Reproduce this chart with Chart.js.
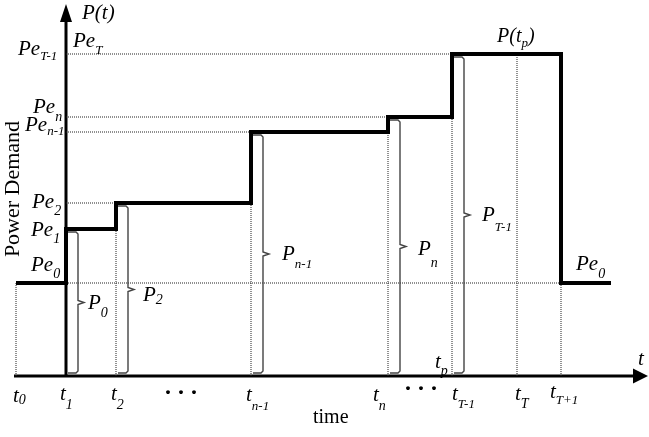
<!DOCTYPE html>
<html>
<head>
<meta charset="utf-8">
<script src="https://cdn.jsdelivr.net/npm/chart.js@4"></script>
<style>
  html, body { margin: 0; padding: 0; background: #fff; }
  #wrap { width: 649px; height: 437px; position: relative; }
</style>
</head>
<body>
<div id="wrap"><canvas id="demandChart"></canvas></div>
<script>
// Time instants on the horizontal axis (t1 sits on the vertical axis)
const timeNames = ['0', '1', '2', 'n-1', 'n', 'T-1', 'T', 'T+1'];
const timePoints = [-50, 0, 50, 185, 322, 386, 451, 495];

// Power demand levels Pe_k
const levelNames = ['0', '1', '2', 'n-1', 'n', 'T-1'];
const demandLevels = [93, 147, 173, 244, 259, 322];

// Demand profile P(t): steps up at each instant, falls back to Pe0 at t_T+1
const stepTimes = [-50, 0, 50, 185, 322, 386, 495, 545];
const stepDemand = [93, 147, 173, 244, 259, 322, 93, 93];

// Dotted guides: level -> index of time it runs to, time -> index of level it rises to
const levelGuideEnd = [7, null, 2, 3, 4, 5];
const timeGuideEnd = [0, null, 1, 2, 3, 4, 5, 0];

// Braces P_k, each standing at a step instant
const braceNames = ['0', '2', 'n-1', 'n', 'T-1'];
const braceAt = [1, 2, 3, 4, 5];

const serif = "'Liberation Serif', 'Times New Roman', serif";

// text placement (pixels): [x, baseline, subscript baseline]
const levelLabelPos = [[31, 271, 278], [31, 236, 243], [32, 208, 215], [25, 131, 135], [33, 113, 121], [18, 55, 60]];
const timeLabelPos = [[13, 402, 404], [60, 400, 409], [111, 400, 409], [246, 401, 410], [373, 401, 410], [452, 400, 408], [515, 400, 408], [550, 398, 404]];
const braceLabelPos = [[88, 309, 317], [143, 301, 304], [282, 260, 268], [418, 255, 267], [482, 221, 231]];

const toPts = arr => arr.map(([x, y]) => ({ x, y }));

const datasets = [];

// thick demand profile (drawn on top, so first)
datasets.push({
    data: stepTimes.map((x, i) => ({ x, y: stepDemand[i] })),
    borderColor: '#000',
    borderWidth: 4,
    stepped: 'before',
    borderJoinStyle: 'miter',
    borderCapStyle: 'butt'
});

// braces
braceAt.forEach(i => {
    const t = timePoints[i];
    const top = demandLevels[i];
    const mid = top / 2;
    const bx = t + 12;
    datasets.push({
        data: toPts([[t + 2, top - 3], [bx - 2, top - 3], [bx, top - 5], [bx, mid + 2], [bx + 6, mid],
                     [bx, mid - 2], [bx, 5], [bx - 2, 3], [t + 2, 3]]),
        borderColor: '#444',
        borderWidth: 1.4
    });
});

// dotted guides
const guideStyle = { borderColor: '#222', borderWidth: 1, borderDash: [1, 1] };
levelGuideEnd.forEach((ti, li) => {
    if (ti === null) return;
    datasets.push({ ...guideStyle, data: toPts([[0, demandLevels[li]], [timePoints[ti], demandLevels[li]]]) });
});
timeGuideEnd.forEach((li, ti) => {
    if (li === null) return;
    datasets.push({ ...guideStyle, data: toPts([[timePoints[ti], 0], [timePoints[ti], demandLevels[li]]]) });
});

function subText(ctx, main, sub, x, y, subY, size, subSize, upright) {
    ctx.font = `${upright ? '' : 'italic '}${size}px ${serif}`;
    ctx.fillText(main, x, y);
    const w = ctx.measureText(main).width;
    ctx.font = `italic ${subSize}px ${serif}`;
    ctx.fillText(sub, x + w, subY);
    return x + w + ctx.measureText(sub).width;
}

const schemePlugin = {
    id: 'scheme',
    beforeDatasetsDraw(chart) {
        const { ctx, scales: { x, y } } = chart;
        const ox = x.getPixelForValue(0);
        const oy = y.getPixelForValue(0);
        ctx.save();
        ctx.strokeStyle = '#000';
        ctx.fillStyle = '#000';
        ctx.lineWidth = 3;
        ctx.beginPath();
        ctx.moveTo(14, oy);
        ctx.lineTo(634, oy);
        ctx.moveTo(ox, oy + 1.5);
        ctx.lineTo(ox, 21);
        ctx.stroke();
        // arrowheads
        ctx.beginPath();
        ctx.moveTo(633, oy - 7.5);
        ctx.lineTo(648, oy);
        ctx.lineTo(633, oy + 7.5);
        ctx.closePath();
        ctx.fill();
        ctx.beginPath();
        ctx.moveTo(ox - 6, 22);
        ctx.lineTo(ox, 4);
        ctx.lineTo(ox + 6, 22);
        ctx.closePath();
        ctx.fill();
        ctx.restore();
    },
    afterDatasetsDraw(chart) {
        const { ctx } = chart;
        ctx.save();
        ctx.fillStyle = '#000';
        ctx.textBaseline = 'alphabetic';
        ctx.textAlign = 'left';

        levelNames.forEach((n, i) => {
            const [lx, ly, sy] = levelLabelPos[i];
            subText(ctx, 'Pe', n, lx, ly, sy, 21, n.length > 1 ? 13 : 14);
        });
        subText(ctx, 'Pe', 'T', 73, 47, 54, 21, 13);
        subText(ctx, 'Pe', '0', 576, 270, 278, 21, 14);

        timeNames.forEach((n, i) => {
            const [lx, ly, sy] = timeLabelPos[i];
            subText(ctx, 't', n, lx, ly, sy, 21, n.length > 1 ? 13 : 14);
        });

        braceNames.forEach((n, i) => {
            const [lx, ly, sy] = braceLabelPos[i];
            subText(ctx, 'P', n, lx, ly, sy, 21, n.length > 1 ? 13 : 14);
        });

        ctx.font = `italic 21px ${serif}`;
        ctx.fillText('P(t)', 82, 19);
        ctx.fillText('t', 638, 365);
        const end = subText(ctx, 'P(t', 'p', 497, 42, 47, 20, 13);
        ctx.font = `italic 20px ${serif}`;
        ctx.fillText(')', end, 42);
        subText(ctx, 't', 'p', 435, 368, 375, 21, 14);

        // ellipses between instants
        ctx.font = `bold 24px ${serif}`;
        [[167, 400], [407, 396]].forEach(([dx, dy]) => {
            for (let k = 0; k < 3; k++) ctx.fillText('·', dx - 3 + k * 13, dy);
        });

        ctx.font = `20px ${serif}`;
        ctx.fillText('time', 313, 423);

        ctx.translate(19, 189);
        ctx.rotate(-Math.PI / 2);
        ctx.textAlign = 'center';
        ctx.font = `22px ${serif}`;
        ctx.fillText('Power Demand', 0, 0);
        ctx.restore();
    }
};

const ctxDemand = document.getElementById('demandChart').getContext('2d');
new Chart(ctxDemand, {
    type: 'scatter',
    data: { datasets },
    options: {
        responsive: true,
        maintainAspectRatio: false,
        animation: false,
        layout: { padding: 0 },
        showLine: true,
        datasets: {
            scatter: { showLine: true, pointRadius: 0, fill: false }
        },
        elements: {
            point: { radius: 0, hoverRadius: 0 },
            line: { tension: 0 }
        },
        scales: {
            x: { type: 'linear', display: false, min: -66, max: 583 },
            y: { type: 'linear', display: false, min: -61, max: 376 }
        },
        plugins: {
            legend: { display: false },
            tooltip: { enabled: false }
        }
    },
    plugins: [schemePlugin]
});
</script>
</body>
</html>
